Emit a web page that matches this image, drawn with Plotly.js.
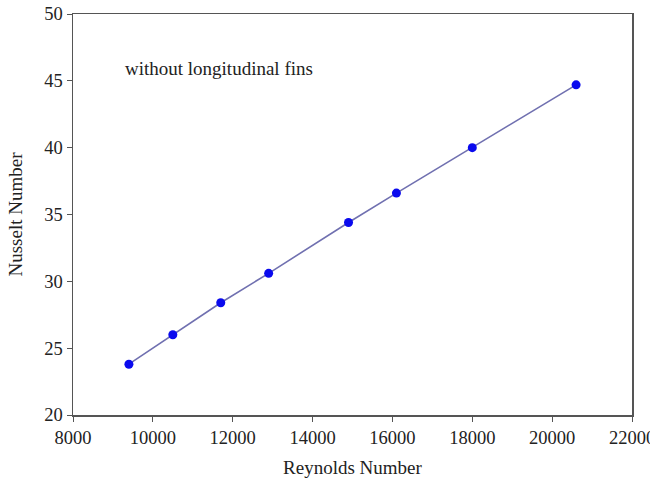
<!DOCTYPE html>
<html>
<head>
<meta charset="utf-8">
<script src="https://cdn.plot.ly/plotly-3.0.1.min.js"></script>
<style>html,body{margin:0;padding:0;background:#fff;}#chart{width:650px;height:482px;}</style>
</head>
<body>
<div id="chart"></div>
<script>
var reynolds = [9400, 10500, 11700, 12900, 14900, 16100, 18000, 20600];
var nusselt = [23.8, 26.0, 28.4, 30.6, 34.4, 36.6, 40.0, 44.7];
var xTicks = [8000, 10000, 12000, 14000, 16000, 18000, 20000, 22000];
var yTicks = [20, 25, 30, 35, 40, 45, 50];
var noteText = 'without longitudinal fins';

var fam = '"Liberation Serif", "Times New Roman", serif';
var tickFont = {family: fam, size: 18.5, color: '#222'};
var titleFont = {family: fam, size: 19, color: '#222'};

var trace = {
  x: reynolds, y: nusselt, type: 'scatter', mode: 'lines+markers',
  line: {color: '#7070b0', width: 1.6},
  marker: {color: '#0a0aee', size: 9},
  showlegend: false
};

var axisCommon = {
  showgrid: false, zeroline: false, showline: true, linecolor: '#555', linewidth: 1.5,
  mirror: true, ticks: 'outside', ticklen: 5, tickcolor: '#555', tickwidth: 1,
  tickfont: tickFont, ticklabeloverflow: 'allow', automargin: false
};

var layout = {
  width: 650, height: 482,
  margin: {l: 73, r: 18, t: 14, b: 67},
  paper_bgcolor: '#fff', plot_bgcolor: '#fff',
  font: titleFont,
  xaxis: Object.assign({}, axisCommon, {
    range: [8000, 22000], tickvals: xTicks, ticktext: xTicks.map(String),
    title: {text: 'Reynolds Number', font: titleFont, standoff: 14}
  }),
  yaxis: Object.assign({}, axisCommon, {
    range: [20, 50], tickvals: yTicks, ticktext: yTicks.map(String),
    title: {text: 'Nusselt Number', font: titleFont, standoff: 16}
  }),
  annotations: [{
    x: 9250, y: 45.9, xref: 'x', yref: 'y', text: noteText, showarrow: false,
    xanchor: 'left', yanchor: 'middle', font: titleFont
  }]
};

Plotly.newPlot('chart', [trace], layout, {displayModeBar: false, staticPlot: true});
</script>
</body>
</html>
